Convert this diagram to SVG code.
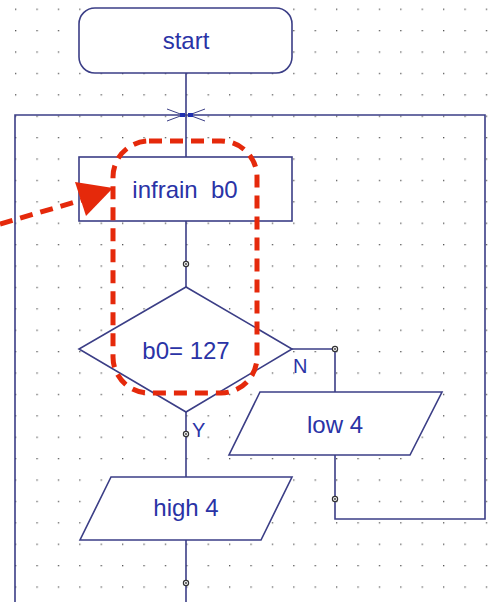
<svg xmlns="http://www.w3.org/2000/svg" width="494" height="602" viewBox="0 0 494 602">
<defs>
<pattern id="grid" x="15" y="8.6" width="21.4" height="21.4" patternUnits="userSpaceOnUse">
<rect x="0" y="0" width="1.3" height="1.3" fill="#555"/>
</pattern>
<style>
.shape{fill:#fff;stroke:#3b3e86;stroke-width:1.6}
.ln{fill:none;stroke:#3b3e86;stroke-width:1.6}
.lbl{font-family:"Liberation Sans",Arial,sans-serif;font-size:24px;fill:#2a33a6;text-anchor:middle}
.yn{font-family:"Liberation Sans",Arial,sans-serif;font-size:20px;fill:#2a33a6}
.pt{fill:#fff;stroke:#333;stroke-width:1.2}
.red{fill:none;stroke:#e5290b;stroke-width:5;stroke-dasharray:13 8}
</style>
</defs>
<rect width="494" height="602" fill="#fff"/>
<rect width="494" height="602" fill="url(#grid)"/>
<g id="connectors">
<path class="ln" d="M186,73 V157"/>
<path class="ln" d="M15,602 V115 H485 V519 H335 V455"/>
<path class="ln" d="M186,221 V287"/>
<path class="ln" d="M292,349 H335 V392"/>
<path class="ln" d="M186,412 V477"/>
<path class="ln" d="M186,540 V602"/>
<path fill="none" stroke="#3b3e86" stroke-width="1" d="M167,109 L183,115 L167,121 M205,109 L189,115 L205,121"/>
<rect x="180" y="113" width="5" height="4" fill="#1f2fb0"/>
<rect x="188" y="113" width="5" height="4" fill="#1f2fb0"/>
<g>
<circle class="pt" cx="186" cy="264" r="2.6"/><circle cx="186" cy="264" r="0.9" fill="#333"/>
<circle class="pt" cx="335" cy="349" r="2.6"/><circle cx="335" cy="349" r="0.9" fill="#333"/>
<circle class="pt" cx="186" cy="434" r="2.6"/><circle cx="186" cy="434" r="0.9" fill="#333"/>
<circle class="pt" cx="335" cy="499" r="2.6"/><circle cx="335" cy="499" r="0.9" fill="#333"/>
<circle class="pt" cx="186" cy="583" r="2.6"/><circle cx="186" cy="583" r="0.9" fill="#333"/>
</g>
<text class="yn" x="293" y="373">N</text>
<text class="yn" x="192" y="437">Y</text>
</g>
<g id="start">
<rect class="shape" x="79" y="8" width="213" height="65" rx="16"/>
<text class="lbl" x="186" y="49">start</text>
</g>
<g id="infrain">
<rect class="shape" x="79" y="157" width="213" height="64"/>
<text class="lbl" x="185" y="198" xml:space="preserve">infrain  b0</text>
</g>
<g id="decision">
<polygon class="shape" points="186,287 292,349 186,412 79,349"/>
<text class="lbl" x="186" y="359">b0= 127</text>
</g>
<g id="low4">
<polygon class="shape" points="260,392 442,392 410,455 229,455"/>
<text class="lbl" x="335" y="433">low 4</text>
</g>
<g id="high4">
<polygon class="shape" points="111,477 292,477 261,540 80,540"/>
<text class="lbl" x="186" y="516">high 4</text>
</g>
<g id="annotation">
<rect class="red" x="113" y="141" width="144" height="252" rx="36"/>
<path class="red" d="M0,224 L82,200"/>
<polygon points="113,188 75,182 86,216" fill="#e5290b"/>
</g>
</svg>
